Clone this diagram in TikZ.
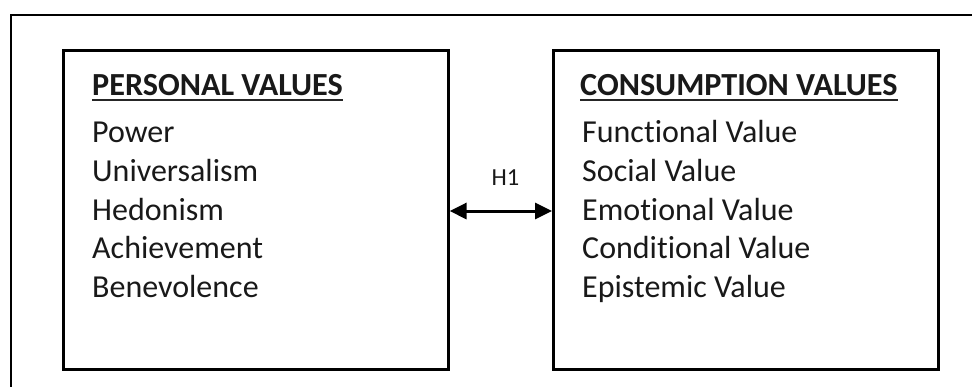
\documentclass[tikz,border=0pt]{standalone}
\usepackage{fontspec}
\setmainfont{Carlito}[Ligatures=CommonOff]
\usetikzlibrary{arrows.meta}

\tikzset{
  valuebox/.style={draw=black, line width=2.6pt, rectangle, inner sep=0pt,
    minimum width=385pt, minimum height=319pt, anchor=north west},
  heading/.style={anchor=base west, inner sep=0pt,
    font=\fontsize{32.2}{38}\selectfont\bfseries, text=black!90},
  item/.style={anchor=base west, inner sep=0pt,
    font=\fontsize{32}{38}\selectfont, text=black!90},
  hlabel/.style={anchor=base, inner sep=0pt, font=\fontsize{24.5}{28}\selectfont, text=black!90},
  headrule/.style={line width=2pt, black!85},
  link/.style={line width=3pt, {Triangle[length=17pt,width=16pt]}-{Triangle[length=17pt,width=16pt]}},
}

\begin{document}
\begin{tikzpicture}[x=1pt, y=-1pt]
  \useasboundingbox (0,0) rectangle (972,386);

  % outer frame (runs past the right and bottom edges)
  \draw[line width=2.6pt] (11,400) -- (11,15) -- (990,15);

  % the two boxes
  \node[valuebox] (pv) at (62,49) {};
  \node[valuebox] (cv) at (552,49) {};

  % headings with underline
  \node[heading] (pvh) at (92,95) {PERSONAL VALUES};
  \draw[headrule] ([yshift=-5pt]pvh.base west) -- ([yshift=-5pt]pvh.base east);
  \node[heading] (cvh) at (580,95) {CONSUMPTION VALUES};
  \draw[headrule] ([yshift=-5pt]cvh.base west) -- ([yshift=-5pt]cvh.base east);

  % personal values
  \node[item] (p1) at (92,142) {Power};
  \node[item] (p2) at (92,181) {Universalism};
  \node[item] (p3) at (92,220) {Hedonism};
  \node[item] (p4) at (92,258) {Achievement};
  \node[item] (p5) at (92,297) {Benevolence};

  % consumption values
  \node[item] (c1) at (582,142) {Functional Value};
  \node[item] (c2) at (582,181) {Social Value};
  \node[item] (c3) at (582,220) {Emotional Value};
  \node[item] (c4) at (582,258) {Conditional Value};
  \node[item] (c5) at (582,297) {Epistemic Value};

  % hypothesis link
  \coordinate (mid) at (500,211);
  \node[hlabel] (h1) at (505.5,185) {H1};
  \draw[link] (pv.east |- mid) -- (cv.west |- mid);
\end{tikzpicture}
\end{document}
